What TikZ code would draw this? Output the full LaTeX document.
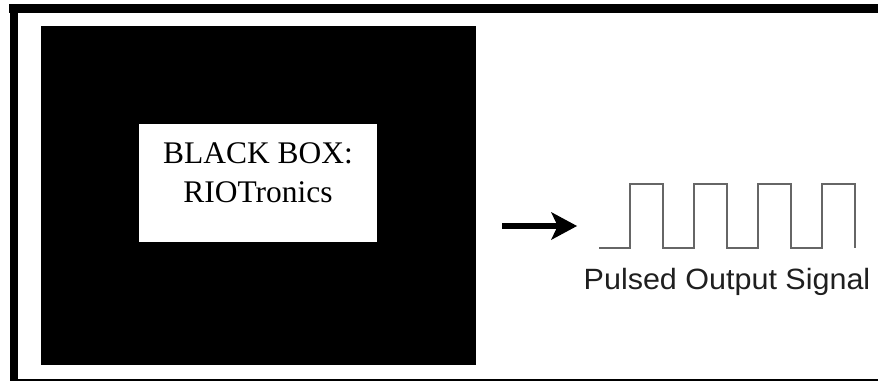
\documentclass[tikz,border=0pt]{standalone}
\usepackage{fontspec}
\setmainfont{Liberation Serif}
\newfontfamily\sigfont[FakeStretch=1.04]{Liberation Sans}
\usetikzlibrary{arrows.meta,positioning}
\tikzset{
  frame/.style={fill=black},
  card/.style={fill=white, inner sep=0pt, minimum width=178.5pt, minimum height=88.5pt},
  boxtext/.style={align=center, inner sep=0pt, font=\fontsize{23.6pt}{29.25pt}\selectfont},
  pulse/.style={draw=black!60, line width=1.2pt, line join=miter},
  siglabel/.style={inner sep=0pt, text=black!88, font=\sigfont\fontsize{22pt}{26pt}\selectfont},
  feed/.style={line width=4.5pt, -{Stealth[length=19.5pt, width=21pt, inset=5pt, line width=0pt]}}
}

\begin{document}
\begin{tikzpicture}[x=0.75pt, y=-0.75pt]
			%%%%% START %%%%%
			\useasboundingbox (0,0) rectangle (878,381);
			
			% frame, open on the right
			\draw[frame] (9,4) rectangle (878,12);
			\draw[frame] (10,4) rectangle (17,380);
			\draw[frame] (10,379) rectangle (878,380.5);
			
			% the black box with its white card
			\draw[fill=black] (41,26) rectangle (475,364);
			\node[card] (card) at (258,183) {};
			\node[boxtext, below=14.25pt of card.north] (name) {BLACK BOX:\\RIOTronics};
			
			% arrow out of the box
			\coordinate (feedtail) at (502,226);
			\coordinate (feedtip) at (577,226);
			\draw[feed] (feedtail) -- (feedtip);
			
			% pulse train
			\draw[pulse] (599,248) -- (630,248) -- (630,184) -- (663,184) -- (663,248)
				-- (694,248) -- (694,184) -- (727,184) -- (727,248)
				-- (758,248) -- (758,184) -- (791,184) -- (791,248)
				-- (822,248) -- (822,184) -- (855,184) -- (855,248);
			\coordinate (wave) at (727,248);
			\node[siglabel, below=15pt of wave] (sig) {Pulsed Output Signal};
			
			%%%%% END %%%%%
\end{tikzpicture}
\end{document}
